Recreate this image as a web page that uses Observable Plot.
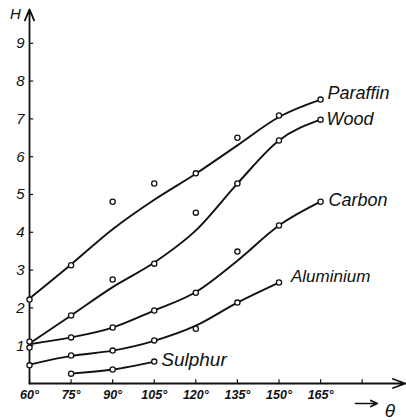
<!DOCTYPE html>
<html>
<head>
<meta charset="utf-8">
<script src="https://cdn.jsdelivr.net/npm/d3@7"></script>
<script src="https://cdn.jsdelivr.net/npm/@observablehq/plot@0.6"></script>
<style>
  html, body { margin: 0; padding: 0; background: #fff; }
  #chart svg { display: block; }
</style>
</head>
<body>
<div id="chart"></div>
<script>
// ---- data ----
const theta = [60, 75, 90, 105, 120, 135, 150, 165];
const paraffinPts   = [2.22, 3.13, 4.81, 5.29, 5.56, 6.50, 7.09, 7.51];
const paraffinCurve = [2.25, 3.15, 4.08, 4.86, 5.55, 6.30, 7.05, 7.51];
const woodPts       = [1.11, 1.80, 2.75, 3.17, 4.52, 5.29, 6.43, 6.98];
const woodCurve     = [1.06, 1.80, 2.55, 3.20, 4.05, 5.29, 6.43, 6.98];
const carbonPts     = [0.95, 1.22, 1.48, 1.93, 2.40, 3.49, 4.18, 4.81];
const carbonCurve   = [1.04, 1.22, 1.48, 1.93, 2.42, 3.25, 4.18, 4.81];
const aluminiumTheta = [60, 75, 90, 105, 120, 135, 150];
const aluminiumPts   = [0.48, 0.74, 0.87, 1.14, 1.45, 2.14, 2.67];
const aluminiumCurve = [0.50, 0.73, 0.87, 1.13, 1.53, 2.14, 2.67];
const sulphurTheta = [75, 90, 105];
const sulphurPts   = [0.26, 0.37, 0.58];
const sulphurCurve = [0.26, 0.37, 0.58];

const seriesNames = ["Paraffin", "Wood", "Carbon", "Aluminium", "Sulphur"];
const xTicks = [60, 75, 90, 105, 120, 135, 150, 165, 180];
const xTickLabels = ["60°", "75°", "90°", "105°", "120°", "135°", "150°", "165°", ""];
const yTicks = [1, 2, 3, 4, 5, 6, 7, 8, 9];
const xDomain = [60, 196];
const yDomain = [0, 10];
const yAxisTop = 9.9;
const xAxisEnd = 195.6;
const yLabel = "H";
const xLabel = "θ";
const xLabelArrow = [177.6, 185.5];
const xLabelPos = 190;

// ---- tables built from the arrays ----
const series = [
  {name: seriesNames[0], th: theta, pts: paraffinPts, curve: paraffinCurve, dx: 7, dy: -6, fs: 18, ls: 0.6},
  {name: seriesNames[1], th: theta, pts: woodPts, curve: woodCurve, dx: 6, dy: 0, fs: 18, ls: 0.6},
  {name: seriesNames[2], th: theta, pts: carbonPts, curve: carbonCurve, dx: 8, dy: -1, fs: 18, ls: 0.8},
  {name: seriesNames[3], th: aluminiumTheta, pts: aluminiumPts, curve: aluminiumCurve, dx: 12, dy: -6, fs: 17, ls: 0.3},
  {name: seriesNames[4], th: sulphurTheta, pts: sulphurPts, curve: sulphurCurve, dx: 7, dy: -2, fs: 19, ls: 1.8}
];
const curveRows = series.flatMap(s => s.th.map((t, i) => ({name: s.name, x: t, y: s.curve[i]})));
const pointRows = series.flatMap(s => s.th.map((t, i) => ({name: s.name, x: t, y: s.pts[i]})));

const ink = "#111";
const font = "'Liberation Sans', 'DejaVu Sans', sans-serif";

const marks = [
  // axes frame
  Plot.arrow([{x1: xDomain[0], y1: 0, x2: xDomain[0], y2: yAxisTop}], {x1: "x1", y1: "y1", x2: "x2", y2: "y2", stroke: ink, strokeWidth: 1.8, headLength: 10, headAngle: 45}),
  Plot.arrow([{x1: xDomain[0], y1: 0, x2: xAxisEnd, y2: 0}], {x1: "x1", y1: "y1", x2: "x2", y2: "y2", stroke: ink, strokeWidth: 1.8, headLength: 11, headAngle: 40}),
  Plot.ruleX(xTicks, {x: d => d, y1: 0, y2: 0.1, stroke: ink, strokeWidth: 1.2}),
  Plot.ruleY(yTicks, {y: d => d, x1: xDomain[0], x2: xDomain[0] + 1.5, stroke: ink, strokeWidth: 1.2}),
  Plot.axisX({ticks: xTicks, tickSize: 0, tickPadding: 7, tickFormat: d => xTickLabels[xTicks.indexOf(d)], fontSize: 12.5, fontStyle: "italic", fontWeight: "bold", label: null}),
  Plot.axisY({ticks: yTicks, tickSize: 0, tickPadding: 5, fontSize: 15, fontStyle: "italic", label: null}),
  // curves
  Plot.line(curveRows, {x: "x", y: "y", z: "name", curve: "monotone-x", stroke: ink, strokeWidth: 1.9}),
  Plot.dot(pointRows, {x: "x", y: "y", r: 2.6, fill: "white", stroke: ink, strokeWidth: 1.3}),
  // series labels
  ...series.map(s => Plot.text([s], {
    x: d => d.th[d.th.length - 1], y: d => d.curve[d.curve.length - 1], text: "name",
    dx: s.dx, dy: s.dy, textAnchor: "start", fontSize: s.fs, fontStyle: "italic", fill: ink,
    ariaLabel: "label-" + s.name
  })),
  // axis titles
  Plot.text([yLabel], {x: () => xDomain[0], y: () => yAxisTop, text: d => d, dx: -14, dy: 5, fontSize: 15, fontStyle: "italic", fill: ink}),
  Plot.arrow([xLabelArrow], {x1: d => d[0], x2: d => d[1], y1: () => 0, y2: () => 0, dy: 20, stroke: ink, strokeWidth: 1.6, headLength: 7, headAngle: 50}),
  Plot.text([xLabel], {x: () => xLabelPos, y: () => 0, text: d => d, dy: 27, fontSize: 19, fontStyle: "italic", fill: ink})
];

const chart = Plot.plot({
  width: 406,
  height: 420,
  marginLeft: 29,
  marginRight: 0,
  marginTop: 5,
  marginBottom: 37,
  style: {fontFamily: font, color: ink, background: "white"},
  x: {domain: xDomain},
  y: {domain: yDomain},
  marks
});
series.forEach(s => {
  d3.select(chart).selectAll(`g[aria-label="label-${s.name}"] text`).style("letter-spacing", s.ls + "px");
});
document.getElementById("chart").appendChild(chart);
</script>
</body>
</html>
